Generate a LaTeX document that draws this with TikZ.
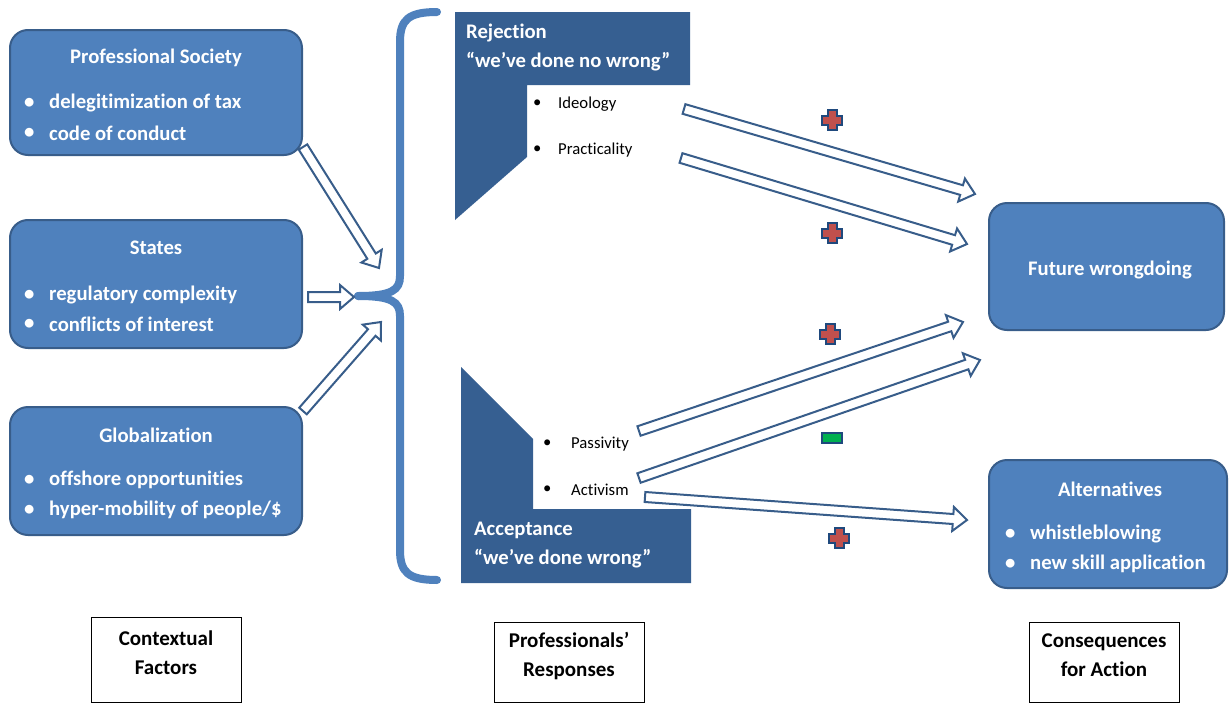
\documentclass[tikz,border=0pt]{standalone}
\usepackage{fontspec}
\setmainfont{Carlito}[Ligatures=CommonOff]
\usetikzlibrary{calc}
\definecolor{boxfill}{HTML}{4F81BD}
\definecolor{boxline}{HTML}{385D8A}
\definecolor{darkshape}{HTML}{365F91}
\definecolor{arrline}{HTML}{385D8A}
\definecolor{plusred}{HTML}{C0504D}
\definecolor{plusline}{HTML}{1F497D}
\definecolor{minusgreen}{HTML}{00B050}
\tikzset{
  box/.style={draw=boxline, line width=2pt, fill=boxfill, rounded corners=18pt, inner sep=0pt},
  boxtitle/.style={text=white, font=\fontsize{20.7}{24}\selectfont\bfseries, inner sep=0pt},
  boxitem/.style={text=white, font=\fontsize{20.7}{24}\selectfont\bfseries, inner sep=0pt, anchor=west},
  smallitem/.style={text=black, font=\fontsize{16.7}{19}\selectfont, inner sep=0pt, anchor=west},
  labelbox/.style={draw=black, line width=1pt, fill=white, inner sep=0pt},
  labeltext/.style={font=\fontsize{21}{29}\selectfont\bfseries, align=center, inner sep=0pt},
  hollow/.style={draw=arrline, line width=2pt, fill=white, line join=miter},
  brace/.style={draw=boxfill, line width=8pt, line cap=round},
  shapefill/.style={fill=darkshape},
  plusst/.style={draw=plusline, line width=2pt, fill=plusred},
  minusst/.style={draw=plusline, line width=2pt, fill=minusgreen}
}
\newcommand\harrow[2]{%
  \coordinate (hb) at ($(#2)!14pt!(#1)$);
  \draw[hollow] ($(#1)!5pt!90:(#2)$) -- ($(hb)!5pt!90:(#2)$) -- ($(hb)!12pt!90:(#2)$) -- (#2)
    -- ($(hb)!12pt!-90:(#2)$) -- ($(hb)!5pt!-90:(#2)$) -- ($(#1)!5pt!-90:(#2)$) -- cycle;}
\newcommand\plussign[1]{%
  \draw[plusst] ($(#1)+(-4.5,-10)$) -- ++(9,0) -- ++(0,5.5) -- ++(5.5,0) -- ++(0,9) -- ++(-5.5,0)
    -- ++(0,5.5) -- ++(-9,0) -- ++(0,-5.5) -- ++(-5.5,0) -- ++(0,-9) -- ++(5.5,0) -- cycle;}
\begin{document}
\begin{tikzpicture}[x=1pt,y=-1pt]
\useasboundingbox (0,0) rectangle (1229,704);

% left boxes
\node[box, minimum width=292pt, minimum height=125pt] (psoc) at (156,92.5) {};
\node[boxtitle] (psoct) at (156,58) {Professional Society};
\node[boxitem] (psocb1) at (24,103) {•};
\node[boxitem] (psoc1) at (49,103) {delegitimization of tax};
\node[boxitem] (psocb2) at (24,133) {•};
\node[boxitem] (psoc2) at (49,133) {code of conduct};

\node[box, minimum width=292pt, minimum height=128pt] (states) at (156,284) {};
\node[boxtitle] (statest) at (156,248) {States};
\node[boxitem] (statesb1) at (24,295) {•};
\node[boxitem] (states1) at (49,295) {regulatory complexity};
\node[boxitem] (statesb2) at (24,324) {•};
\node[boxitem] (states2) at (49,324) {conflicts of interest};

\node[box, minimum width=292pt, minimum height=128pt] (glob) at (156,471) {};
\node[boxtitle] (globt) at (156,435) {Globalization};
\node[boxitem] (globb1) at (24,480) {•};
\node[boxitem] (glob1) at (49,480) {offshore opportunities};
\node[boxitem] (globb2) at (24,510) {•};
\node[boxitem] (glob2) at (49,510) {hyper-mobility of people/\$};

% brace
\draw[brace] (437,12) .. controls (408,12) and (400,20) .. (400,42) -- (400,276)
  .. controls (400,290) and (392,296) .. (358,296);
\draw[brace] (437,580) .. controls (408,580) and (400,572) .. (400,550) -- (400,316)
  .. controls (400,302) and (392,296) .. (358,296);

% response shapes
\fill[shapefill] (455,12) -- (690,12) -- (690,85) -- (527,85) -- (527,157) -- (455,220) -- cycle;
\node[boxitem] (rej1) at (466,33) {Rejection};
\node[boxitem] (rej2) at (466,62) {“we’ve done no wrong”};
\node[smallitem] (ideob) at (533,104) {•};
\node[smallitem] (ideo) at (558,104) {Ideology};
\node[smallitem] (pracb) at (533,150) {•};
\node[smallitem] (prac) at (558,150) {Practicality};

\fill[shapefill] (461,367) -- (533,439) -- (533,509) -- (691,509) -- (691,583) -- (461,583) -- cycle;
\node[boxitem] (acc1) at (474,530) {Acceptance};
\node[boxitem] (acc2) at (474,559) {“we’ve done wrong”};
\node[smallitem] (passb) at (543,444) {•};
\node[smallitem] (pass) at (571,444) {Passivity};
\node[smallitem] (actb) at (543,490) {•};
\node[smallitem] (act) at (571,490) {Activism};

% right boxes
\node[box, minimum width=235pt, minimum height=127pt] (future) at (1106.5,266.5) {};
\node[boxtitle] (futuret) at (1110,270) {Future wrongdoing};
\node[box, minimum width=238pt, minimum height=128pt] (alt) at (1108,524) {};
\node[boxtitle] (altt) at (1110,489) {Alternatives};
\node[boxitem] (altb1) at (1005,534) {•};
\node[boxitem] (alt1) at (1030,534) {whistleblowing};
\node[boxitem] (altb2) at (1005,564) {•};
\node[boxitem] (alt2) at (1030,564) {new skill application};

% arrows
\coordinate (a1s) at (303,147); \coordinate (a1e) at (379,268);
\coordinate (a2s) at (308,297); \coordinate (a2e) at (354,297);
\coordinate (a3s) at (303,411); \coordinate (a3e) at (381,322);
\coordinate (a4s) at (684,109); \coordinate (a4e) at (975,194);
\coordinate (a5s) at (681,158); \coordinate (a5e) at (967,244);
\coordinate (a6s) at (639,431); \coordinate (a6e) at (963,322);
\coordinate (a7s) at (639,478); \coordinate (a7e) at (980,360);
\coordinate (a8s) at (645,497); \coordinate (a8e) at (967,520);
\harrow{a1s}{a1e}
\harrow{a2s}{a2e}
\harrow{a3s}{a3e}
\harrow{a4s}{a4e}
\harrow{a5s}{a5e}
\harrow{a6s}{a6e}
\harrow{a7s}{a7e}
\harrow{a8s}{a8e}

% signs
\coordinate (p1) at (832,120);
\coordinate (p2) at (832,233);
\coordinate (p3) at (830,334);
\coordinate (p4) at (839,538);
\coordinate (m1) at (832,438);
\plussign{p1}
\plussign{p2}
\plussign{p3}
\plussign{p4}
\draw[minusst] ($(m1)+(-10,-5)$) rectangle ($(m1)+(10,5)$);

% bottom labels
\node[labelbox, minimum width=150pt, minimum height=85pt] (ctxbox) at (166,660) {};
\node[labeltext] (ctx) at (166,652.5) {Contextual\\Factors};
\node[labelbox, minimum width=150pt, minimum height=80pt] (probox) at (569,662) {};
\node[labeltext] (pro) at (569,656) {Professionals’\\Responses};
\node[labelbox, minimum width=150pt, minimum height=80pt] (conbox) at (1104,662) {};
\node[labeltext] (con) at (1104,655.5) {Consequences\\for Action};
\end{tikzpicture}
\end{document}
